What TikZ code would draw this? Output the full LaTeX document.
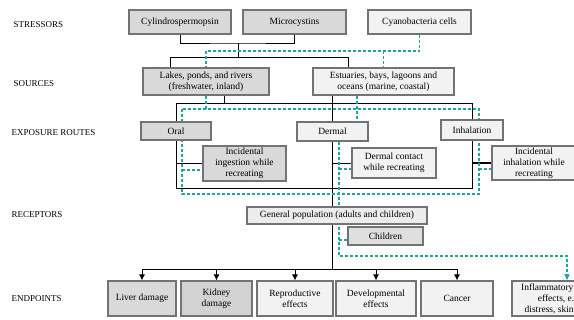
\documentclass[tikz,border=0pt]{standalone}
\usepackage{fontspec}
\setmainfont{Liberation Serif}
\usepackage{tikz}
\usetikzlibrary{arrows.meta,backgrounds}
\definecolor{routeteal}{HTML}{1FA3A3}

\begin{document}
\begin{tikzpicture}[x=1pt, y=-1pt,
    box/.style={draw=black!55, line width=1.1pt, fill=gray!10, align=center, inner sep=1pt, font=\fontsize{9.5}{11}\selectfont},
    greybox/.style={box, fill=gray!30},
    stage/.style={anchor=west, font=\fontsize{9}{10}\selectfont},
    link/.style={line width=0.9pt},
    tealdash/.style={draw=routeteal, dash pattern=on 3pt off 2pt, line width=1.1pt}
]
    \useasboundingbox (0,0) rectangle (574,320);
    \clip (0,0) rectangle (574,320);

    % row labels
    \node[stage] (lstress) at (10,25) {STRESSORS};
    \node[stage] (lsource) at (10,84) {SOURCES};
    \node[stage] (lroute) at (8,133) {EXPOSURE ROUTES};
    \node[stage] (lrecept) at (8,215) {RECEPTORS};
    \node[stage] (lend) at (8,299) {ENDPOINTS};

    % stressors
    \node[greybox, minimum width=102pt, minimum height=24pt] (cyl) at (180,22) {Cylindrospermopsin};
    \node[greybox, minimum width=103pt, minimum height=24pt] (micro) at (294.5,22) {Microcystins};
    \node[box, minimum width=103pt, minimum height=24pt] (cyano) at (419.5,22) {Cyanobacteria cells};

    % sources
    \node[greybox, minimum width=126pt, minimum height=27pt] (lakes) at (206,81.5) {Lakes, ponds, and rivers\\(freshwater, inland)};
    \node[box, minimum width=141pt, minimum height=27pt] (estu) at (383.5,81.5) {Estuaries, bays, lagoons and\\oceans (marine, coastal)};

    % exposure routes
    \node[greybox, minimum width=70pt, minimum height=18pt] (oral) at (176,131) {Oral};
    \node[box, minimum width=71pt, minimum height=19pt] (dermal) at (332.5,131.5) {Dermal};
    \node[box, minimum width=62pt, minimum height=20pt] (inhal) at (472,130) {Inhalation};
    \node[greybox, minimum width=83pt, minimum height=35pt] (ingest) at (244.5,163.5) {Incidental\\ingestion while\\recreating};
    \node[box, minimum width=84pt, minimum height=30pt] (dcontact) at (394,163) {Dermal contact\\while recreating};
    \node[box, minimum width=84pt, minimum height=34pt] (iinhal) at (534,163) {Incidental\\inhalation while\\recreating};

    % receptors
    \node[box, fill=gray!15, minimum width=180pt, minimum height=17pt] (genpop) at (337,215.5) {General population (adults and children)};
    \node[greybox, fill=gray!25, minimum width=75pt, minimum height=18pt] (children) at (385.5,236) {Children};

    % endpoints
    \node[greybox, minimum width=68pt, minimum height=35pt] (liver) at (142,298.5) {Liver damage};
    \node[greybox, fill=gray!35, minimum width=71pt, minimum height=35pt] (kidney) at (216.5,298.5) {Kidney\\damage};
    \node[box, minimum width=76pt, minimum height=35pt] (repro) at (295,298.5) {Reproductive\\effects};
    \node[box, minimum width=80pt, minimum height=35pt] (devel) at (376,298.5) {Developmental\\effects};
    \node[box, minimum width=72pt, minimum height=35pt] (cancer) at (457,298.5) {Cancer};
    \node[box, minimum width=110pt, minimum height=35pt] (inflam) at (567,298.5) {Inflammatory responses\\effects, e.g., GI\\distress, skin irritation};

    \begin{scope}[on background layer]
        % black pathways
        \coordinate (j1) at (238,43);
        \coordinate (j2) at (238,57);
        \coordinate (jls) at (170,57);
        \coordinate (jes) at (348,57);
        \draw[link] (cyl.south) |- (j1) -| (micro.south);
        \draw[link] (j1) -- (j2);
        \draw[link] (jls |- lakes.north) -- (jls) -- (jes) -- (jes |- estu.north);
        \coordinate (rtl) at (176,103);
        \coordinate (rbr) at (472,188);
        \draw[link] (rtl) rectangle (rbr);
        \coordinate (jlk) at (224,103);
        \draw[link] (jlk |- lakes.south) -- (jlk);
        \draw[link] (dermal.north |- estu.south) -- (dermal.north);
        \coordinate (jep) at (332,269);
        \draw[link] (jep |- dermal.south) -- (jep);
        \draw[link] (rtl |- ingest.west) -- (ingest.west);
        \draw[link] (jep |- dcontact.west) -- (dcontact.west);
        \draw[link, line width=1.6pt] (rbr |- iinhal.west) -- (iinhal.west);
        \draw[link] (liver.north |- jep) -- (cancer.north |- jep);
        \foreach \ep in {liver,kidney,repro,devel,cancer}
            \draw[link, -{Latex[length=6pt,width=6pt]}] (\ep.north |- jep) -- (\ep.north);

        % cyanobacteria cells pathway
        \coordinate (tc) at (206,51);
        \draw[tealdash] (cyano.south) |- (tc) -- (lakes.north);
        \draw[tealdash] (estu.north |- tc) -- (estu.north);
        \coordinate (ttl) at (182,109);
        \coordinate (tbr) at (479,194);
        \draw[tealdash] (ttl) rectangle (tbr);
        \draw[tealdash] (lakes.south) -- (lakes.south |- ttl);
        \coordinate (tes) at (357,109);
        \draw[tealdash] (tes |- estu.south) -- (tes |- dermal.north);
        \coordinate (tin) at (182,170);
        \draw[tealdash] (tin) -- (tin -| ingest.west);
        \coordinate (tih) at (479,169);
        \draw[tealdash] (tih) -- (tih -| iinhal.west);
        \coordinate (tdm) at (339,256);
        \draw[tealdash, -{Latex[length=6pt,width=6pt]}] (tdm |- dermal.south) -- (tdm) -| (inflam.north);
        \coordinate (tdc) at (339,169);
        \draw[tealdash] (tdc) -- (tdc -| dcontact.west);
        \coordinate (tch) at (339,240);
        \draw[tealdash] (tch) -- (tch -| children.west);
    \end{scope}
\end{tikzpicture}
\end{document}
